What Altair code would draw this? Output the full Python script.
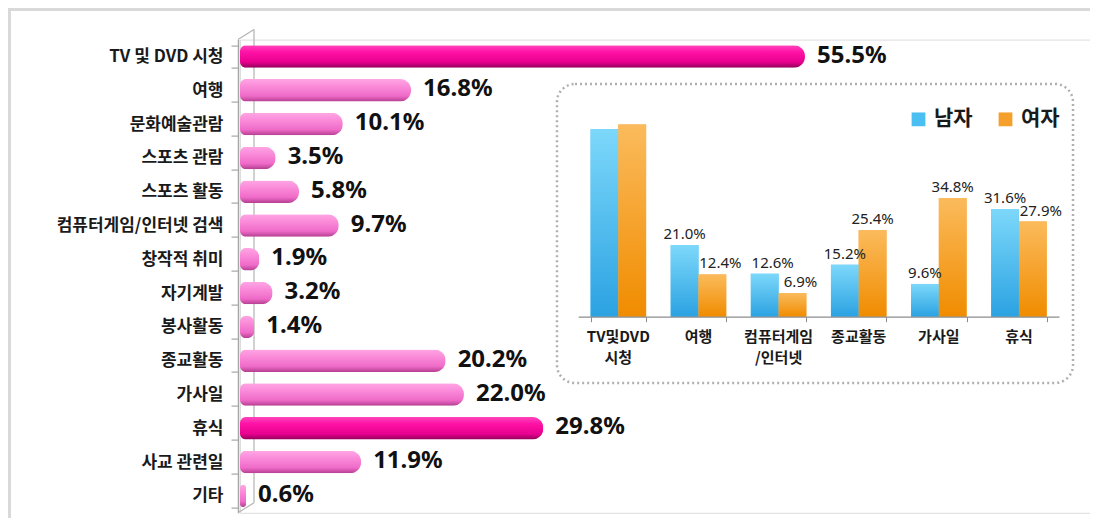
import altair as alt
import pandas as pd

# ---- main chart data ----
categories = ["TV 및 DVD 시청", "여행", "문화예술관람", "스포츠 관람", "스포츠 활동",
              "컴퓨터게임/인터넷 검색", "창작적 취미", "자기계발", "봉사활동", "종교활동",
              "가사일", "휴식", "사교 관련일", "기타"]
values = [55.5, 16.8, 10.1, 3.5, 5.8, 9.7, 1.9, 3.2, 1.4, 20.2, 22.0, 29.8, 11.9, 0.6]
highlight = ["TV 및 DVD 시청", "휴식"]

# ---- inset chart data ----
inset_cats = ["TV및DVD\n시청", "여행", "컴퓨터게임\n/인터넷", "종교활동", "가사일", "휴식"]
genders = ["남자", "여자"]
male = [55.0, 21.0, 12.6, 15.2, 9.6, 31.6]
female = [56.4, 12.4, 6.9, 25.4, 34.8, 27.9]
unlabeled = ["TV및DVD\n시청"]

main_df = pd.DataFrame({"cat": categories, "v": values})
main_df["hl"] = main_df["cat"].isin(highlight)

rows = []
for c, m, f in zip(inset_cats, male, female):
    rows.append({"cat": c, "g": genders[0], "v": m})
    rows.append({"cat": c, "g": genders[1], "v": f})
inset_df = pd.DataFrame(rows)

KR = "Noto Sans CJK KR"
W, H = 850, 473.2
one = pd.DataFrame({"k": [0]})

grad_pink = {"gradient": "linear", "x1": 0, "y1": 0, "x2": 0, "y2": 1,
             "stops": [{"offset": 0, "color": "#ffa6e4"}, {"offset": 0.3, "color": "#fb8dda"},
                       {"offset": 0.75, "color": "#ef6bc8"}, {"offset": 1, "color": "#b43e90"}]}
grad_mag = {"gradient": "linear", "x1": 0, "y1": 0, "x2": 0, "y2": 1,
            "stops": [{"offset": 0, "color": "#ff45bb"}, {"offset": 0.3, "color": "#ff12a6"},
                      {"offset": 0.75, "color": "#e8008f"}, {"offset": 1, "color": "#920059"}]}
grad_blue = {"gradient": "linear", "x1": 0, "y1": 0, "x2": 0, "y2": 1,
             "stops": [{"offset": 0, "color": "#7dd8fa"}, {"offset": 1, "color": "#2ba2e2"}]}
grad_orange = {"gradient": "linear", "x1": 0, "y1": 0, "x2": 0, "y2": 1,
               "stops": [{"offset": 0, "color": "#fbbb5c"}, {"offset": 1, "color": "#f08c00"}]}

# ---- decorations ----
wall = "#b3b3b3"
frame_top = alt.Chart(one).mark_rule(color="#d9d9d9", strokeWidth=3).encode(
    x=alt.value(-232), x2=alt.value(W), y=alt.value(-30.1))
frame_left = alt.Chart(one).mark_rule(color="#d9d9d9", strokeWidth=3).encode(
    x=alt.value(-230.5), y=alt.value(-31.6), y2=alt.value(H + 6))
back = alt.Chart(one).mark_rule(color=wall, strokeWidth=1.2).encode(
    x=alt.value(14), y=alt.value(-10), y2=alt.value(H - 10))
slant_top = alt.Chart(one).mark_rule(color=wall, strokeWidth=1.2).encode(
    x=alt.value(-2), y=alt.value(0), x2=alt.value(14), y2=alt.value(-10))
slant_bot = alt.Chart(one).mark_rule(color=wall, strokeWidth=1.2).encode(
    x=alt.value(-2), y=alt.value(H), x2=alt.value(14), y2=alt.value(H - 10))

# ---- main bars ----
ymain = alt.Y("cat:N", sort=categories,
              scale=alt.Scale(paddingInner=0.334, paddingOuter=0.167),
              axis=alt.Axis(title=None, labelFontSize=17, labelFont=KR, labelFontWeight="bold",
                            labelColor="#1a1a1a", domainColor="#a6a6a6", domainWidth=1.5,
                            tickColor="#a6a6a6", tickSize=7, tickWidth=1.2, offset=2,
                            labelPadding=8, tickBand="extent", labelLimit=300))
xmain = alt.X("v:Q", scale=alt.Scale(domain=[0, W / 10.18]), axis=None)

base_main = alt.Chart(main_df)
bars = base_main.mark_bar(cornerRadiusTopLeft=6, cornerRadiusBottomLeft=6,
                          cornerRadiusTopRight=11, cornerRadiusBottomRight=11).encode(
    y=ymain, x=xmain,
    color=alt.condition("datum.hl", alt.value(grad_mag), alt.value(grad_pink)))
labels = base_main.mark_text(align="left", baseline="middle", dx=12, dy=-1, fontSize=24,
                             fontWeight="bold", font="Noto Sans", color="#111111").encode(
    y=ymain, x=xmain, text="label:N").transform_calculate(
    label="format(datum.v, '.1f') + '%'")

main = alt.layer(frame_top, frame_left, back, slant_top, slant_bot, bars, labels)

# ---- inset ----
frame = alt.Chart(one).mark_rect(filled=False, stroke="#b0b0b0", strokeWidth=2.5,
                                 strokeDash=[2, 3], cornerRadius=18).encode(
    x=alt.value(317), x2=alt.value(833), y=alt.value(44.4), y2=alt.value(343.4))

xin = alt.X("cat:N", sort=inset_cats,
            scale=alt.Scale(range=[338.3, 819], paddingInner=0.307, paddingOuter=0.1535),
            axis=alt.Axis(orient="bottom", offset=-(H - 277.1), labels=False, title=None,
                          tickBand="extent", domainColor="#8c8c8c", tickColor="#8c8c8c",
                          tickSize=5, domainWidth=1.2, zindex=1))
xoff = alt.XOffset("g:N", sort=genders)
yin = alt.Y("v:Q", scale=alt.Scale(domain=[0, 60], range=[277.1, 277.1 - 3.41 * 60]), axis=None)

base_in = alt.Chart(inset_df)
bars_solid = base_in.mark_bar().encode(
    x=xin, xOffset=xoff, y=yin,
    color=alt.Color("g:N", sort=genders,
                    scale=alt.Scale(domain=genders, range=["#4cbff2", "#f6a02c"]),
                    legend=alt.Legend(orient="none", legendX=668, legendY=69,
                                      direction="horizontal", title=None, symbolType="square",
                                      symbolSize=190, labelFontSize=21, labelFontWeight="bold",
                                      labelFont=KR, labelColor="#1a1a1a", columnPadding=22,
                                      labelOffset=5, symbolStrokeWidth=0)))
bars_grad = base_in.mark_bar().encode(
    x=xin, xOffset=xoff, y=yin,
    color=alt.condition("datum.g == '남자'", alt.value(grad_blue), alt.value(grad_orange)))

nudged = "(datum.g == '남자' && datum.cat == '컴퓨터게임\\n/인터넷') || (datum.g == '여자' && (datum.cat == '여행' || datum.cat == '컴퓨터게임\\n/인터넷' || datum.cat == '휴식'))"
notlab = " || ".join([f"datum.cat == {repr(c)}".replace("\n", "\\n") for c in unlabeled])

lab_common = dict(baseline="bottom", dy=-3, fontSize=15, font="Noto Sans", color="#222222")
vlab = base_in.mark_text(**lab_common).encode(
    x=xin, xOffset=xoff, y=yin, text="label:N").transform_calculate(
    label="format(datum.v, '.1f') + '%'").transform_filter(
    f"!({notlab}) && !({nudged})")
vlab2 = base_in.mark_text(dx=8, **lab_common).encode(
    x=xin, xOffset=xoff, y=yin, text="label:N").transform_calculate(
    label="format(datum.v, '.1f') + '%'").transform_filter(
    f"!({notlab}) && ({nudged})")

catlab = alt.Chart(pd.DataFrame({"cat": inset_cats})).mark_text(
    baseline="top", lineBreak="\n", lineHeight=21, fontSize=15, fontWeight="bold",
    font=KR, color="#1a1a1a").encode(x=xin, y=alt.value(290.4), text="cat:N")

inset = alt.layer(frame, bars_solid, bars_grad, vlab, vlab2, catlab)

chart = alt.layer(main, inset).resolve_scale(x="independent", y="independent").properties(
    width=W, height=H,
    padding={"left": 232, "top": 31.6, "right": 0, "bottom": 5.2},
    autosize=alt.AutoSizeParams(type="none"),
).configure_view(stroke=None).configure(background="white")

chart.save("out.html", embed_options={"renderer": "svg", "actions": False})
